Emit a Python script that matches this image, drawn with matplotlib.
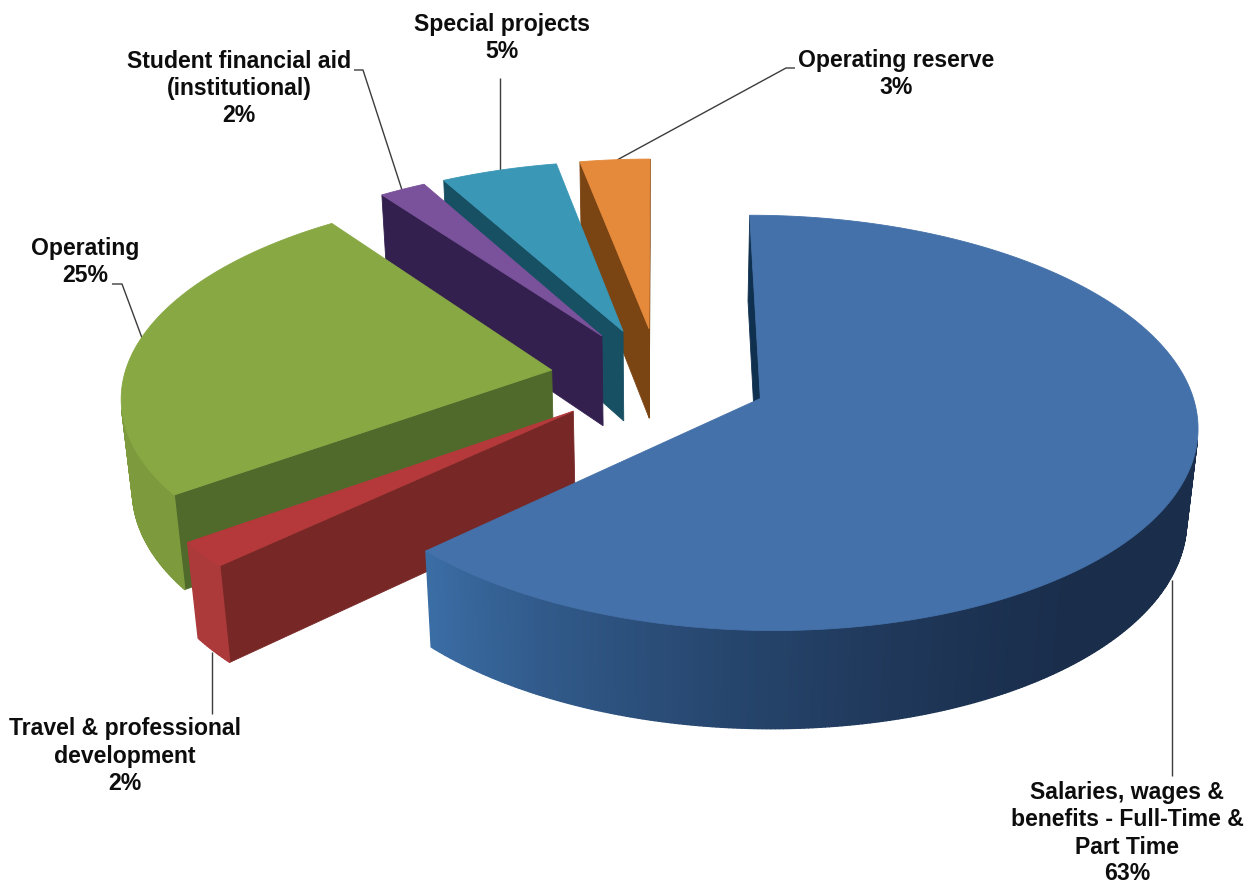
from __future__ import annotations

import matplotlib

matplotlib.use("Agg")

import matplotlib.pyplot as plt
import numpy as np
from matplotlib.collections import PolyCollection
from matplotlib.colors import to_rgb
from matplotlib.patches import Polygon


CATEGORIES = [
    "Salaries, wages &\nbenefits - Full-Time &\nPart Time",
    "Travel & professional\ndevelopment",
    "Operating",
    "Student financial aid\n(institutional)",
    "Special projects",
    "Operating reserve",
]
SHARES = [63, 2, 25, 2, 5, 3]

TOP_COLORS = ["#4471a9", "#b5393b", "#88a844", "#7a529b", "#3a97b6", "#e5893a"]
CUT_COLORS = ["#10304f", "#772826", "#4f6a2b", "#33204f", "#174f63", "#7b4413"]
WALL_DARK = ["#1a2e4c", "#772826", "#7d9b3c", "#33204f", "#174f63", "#7b4413"]
WALL_LIGHT = ["#3b6da5", "#ad3a3a", "#7d9b3c", "#33204f", "#174f63", "#7b4413"]

# slices are painted back to front
DRAW_ORDER = [5, 4, 3, 2, 1, 0]

# label centre x, first line y, leader polyline
LABEL_X = [1127, 125, 85, 239, 502, 896]
LABEL_Y = [793, 729, 249, 62, 24, 60]
LEADERS = [
    [(1172, 580), (1172, 776)],
    [(212, 652), (212, 714)],
    [(112, 284), (122, 284), (145, 346)],
    [(354, 70), (363, 70), (402, 190)],
    [(500, 78), (500, 172)],
    [(795, 68), (786, 68), (617, 160)],
]

# pie geometry in pixels
CENTER_X, CENTER_Y = 659.0, 378.0
RADIUS_X, RADIUS_Y = 428.0, 200.0
EXPLODE = 0.255
PERSPECTIVE = 0.116
DEPTH = 93.0
DEPTH_SHRINK = 0.021
LINE_STEP = 27.0


def project(u: np.ndarray, v: np.ndarray, lower: bool = False) -> np.ndarray:
    scale = 1.0 / (1.0 + PERSPECTIVE * v + (DEPTH_SHRINK if lower else 0.0))
    x = CENTER_X + RADIUS_X * u * scale
    y = CENTER_Y + (-RADIUS_Y * v + (DEPTH if lower else 0.0)) * scale
    return np.column_stack([x, y])


def mix(dark: str, light: str, t: float) -> tuple[float, float, float]:
    a, b = np.array(to_rgb(dark)), np.array(to_rgb(light))
    return tuple(a + (b - a) * t)


def signed_area(quad: np.ndarray) -> float:
    x, y = quad[:, 0], quad[:, 1]
    return float(np.sum(x * np.roll(y, -1) - np.roll(x, -1) * y))


def draw_slice(ax: plt.Axes, idx: int, start: float, end: float) -> None:
    mid = np.radians((start + end) / 2)
    apex_u, apex_v = EXPLODE * np.sin(mid), EXPLODE * np.cos(mid)
    theta = np.radians(np.linspace(start, end, max(int(end - start) * 2, 8)))
    u = np.concatenate([[apex_u], apex_u + np.sin(theta)])
    v = np.concatenate([[apex_v], apex_v + np.cos(theta)])
    top = project(u, v)
    low = project(u, v, lower=True)

    # radial cut faces
    n = len(top)
    for a, b in ((0, 1), (n - 1, 0)):
        quad = np.array([top[a], top[b], low[b], low[a]])
        if signed_area(quad) < 0:
            ax.add_patch(Polygon(quad, closed=True, facecolor=CUT_COLORS[idx], edgecolor=CUT_COLORS[idx], linewidth=0.6))

    # curved outer wall, culled where it faces away
    quads, colors = [], []
    for a in range(1, n - 1):
        quad = np.array([top[a], top[a + 1], low[a + 1], low[a]])
        if signed_area(quad) < 0:
            deg = np.degrees(theta[a - 1])
            t = float(np.clip((deg - 140.0) / 86.0, 0.0, 1.0)) ** 1.5
            quads.append(quad)
            colors.append(mix(WALL_DARK[idx], WALL_LIGHT[idx], t))
    if quads:
        ax.add_collection(PolyCollection(quads, facecolors=colors, edgecolors=colors, linewidths=1.0))

    ax.add_patch(Polygon(top, closed=True, facecolor=TOP_COLORS[idx], edgecolor=TOP_COLORS[idx], linewidth=0.6))


def main() -> None:
    plt.rcParams["font.family"] = ["Liberation Sans", "DejaVu Sans"]
    fig = plt.figure(figsize=(12.48, 8.84), dpi=100)
    ax = fig.add_axes((0, 0, 1, 1))
    ax.set_xlim(0, 1248)
    ax.set_ylim(884, 0)
    ax.axis("off")

    edges = np.cumsum([0] + SHARES) * 3.6

    # leaders sit under the pie so they stop at its edge
    for points in LEADERS:
        xs, ys = zip(*points)
        ax.plot(xs, ys, color="#3c3c3c", linewidth=1.0, zorder=0.5, solid_capstyle="butt")

    for idx in DRAW_ORDER:
        draw_slice(ax, idx, edges[idx], edges[idx + 1])

    for name, share, x, y in zip(CATEGORIES, SHARES, LABEL_X, LABEL_Y):
        lines = name.split("\n") + [f"{share}%"]
        for row, line in enumerate(lines):
            ax.text(x, y + row * LINE_STEP, line, ha="center", va="center", fontsize=16.6, fontweight="bold", color="#0d0d0d")

    fig.savefig("out.png", dpi=100, facecolor="white")
    plt.close(fig)


if __name__ == "__main__":
    main()
